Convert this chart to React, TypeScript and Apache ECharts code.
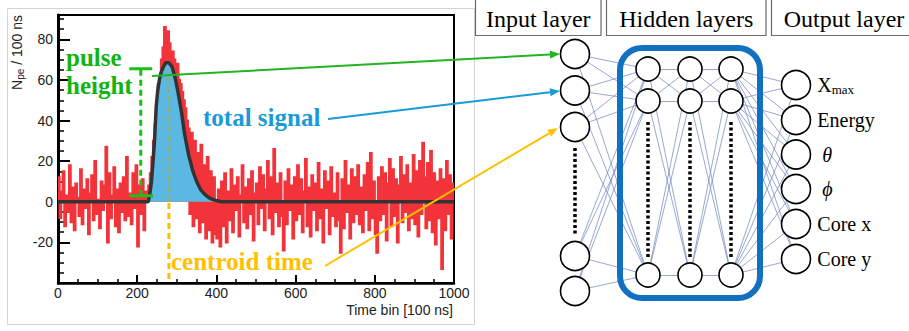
import React, { useEffect, useRef } from "react";
import * as echarts from "echarts";

// ---------------- data ----------------
const BIN_WIDTH = 4; // time bins [100 ns] per histogram entry
const X_MAX = 1000;

// N_pe per bin (0 – 228)
const noiseBefore = [
  12, -8, 5, 15, -12, 3, -5, 18, -10, 7,
  -14, 9, 2, -7, 16, -11, 6, -3, 11, -16,
  4, 13, -9, 20, -6, 1, -13, 10, -4, 8,
  27, -20, 14, -8, 3, 17, -12, 6, -15, 9,
  -5, 12, -9, 22, -7, 4, -11, 14, -3, 18,
  -22, 8, -6, 11, -14, 5, 2,
];
// pulse region (228 – 400)
const peakCounts = [
  8, 14, 22, 30, 38, 50, 58, 62, 70, 76,
  86, 80, 84, 78, 72, 74, 70, 66, 68, 60,
  58, 54, 50, 46, 40, 36, -6, 34, -12, 30,
  -8, 24, -15, 28, -10, 18, -18, 22, -14, 15,
  -20, 12, -16,
];
// after the pulse (400 – 1000)
const noiseAfter = [
  -18, 6, -22, 10, -12, 14, -20, 5, -9, 16,
  -15, 8, -4, 12, -17, 3, 18, -10, 7, -13,
  11, -6, 15, -19, 4, 9, -11, 17, -3, 13,
  -14, 6, 20, -8, 12, -16, 26, -5, 9, -12,
  14, -7, -24, 10, -11, 16, -4, 8, -18, 12,
  -9, 18, -6, 11, -15, 5, 21, -12, 7, -17,
  13, -4, 9, -14, 19, -8, 6, -20, 15, -3,
  10, -16, 17, -7, 4, -12, 14, -9, -25, 11,
  -13, 20, -5, 8, -18, 16, -10, 12, -6, 18,
  -11, 7, -15, 13, -4, 19, -14, 24, -8, 10,
  -16, -25, 12, -9, 17, -6, 14, -19, 9, 21,
  -12, 16, -7, 11, -20, 8, 22, -10, 13, -5,
  18, -14, 9, -8, 23, -11, 15, -17, 20, -6,
  29, 12, -13, 19, -9, 25, -15, 14, -21, 10,
  -8, 16, -33, 11, -14, 20, -6, 13, -18, 9,
];

// fitted pulse shape
const fitTimes = [0, 228, 232, 236, 240, 244, 248, 252, 256, 260, 266, 272, 280, 288, 296, 304, 312, 320, 330, 340, 350, 360, 370, 380, 390, 400, 412, X_MAX];
const fitValues = [0, 0, 4, 10, 20, 31, 47, 55, 60, 63.5, 66.5, 68.5, 68.5, 66.5, 61, 53, 44, 33, 23, 15.5, 10, 6, 3.8, 2.2, 1.2, 0.6, 0, 0];
const fillStart = 228;
const fillEnd = 412;

// annotation values
const pulseTime = 209;
const pulseTop = 65.5;
const pulseBottom = 3;
const pulseBarFrom = 180;
const pulseBarTo = 238;
const centroidTime = 280;
const centroidTop = 65;
const centroidBottom = -38;

const yMin = -40;
const yMax = 92;
const yStep = 20;
const xStep = 200;

const layerNames = ["Input layer", "Hidden layers", "Output layer"];
const outputLabels = ["X{sub|max}", "Energy", "{it|θ}", "{it|ϕ}", "Core x", "Core y"];

// ---------------- layout ----------------
const PLOT = { left: 58, top: 15, width: 396, height: 268 };
const inputX = 575;
const inputYs = [54, 90.5, 127, 256, 291];
const hiddenXs = [648, 690, 731];
const hiddenYs = [69, 101, 275];
const outputX = 796;
const outputYs = [85, 120, 154.5, 189, 224, 259];

const RED = "#f3333a";
const BLUE_FILL = "#5bb8e3";
const GREEN = "#12b412";
const CYAN = "#1a9bd7";
const ORANGE = "#ffc000";
const SERIF = '"Liberation Serif", "Times New Roman", serif';
const SANS = '"Liberation Sans", Arial, sans-serif';

function arrow(x1: number, y1: number, x2: number, y2: number, color: string) {
  const dx = x2 - x1;
  const dy = y2 - y1;
  const len = Math.hypot(dx, dy);
  const ux = dx / len;
  const uy = dy / len;
  const L = 10;
  const Wd = 4;
  const bx = x2 - ux * L;
  const by = y2 - uy * L;
  return [
    { type: "line", z: 30, shape: { x1, y1, x2: bx, y2: by }, style: { stroke: color, lineWidth: 2 } },
    {
      type: "polygon",
      z: 30,
      shape: { points: [[x2, y2], [bx - uy * Wd, by + ux * Wd], [bx + uy * Wd, by - ux * Wd]] },
      style: { fill: color },
    },
  ];
}

export default function App() {
  const ref = useRef<HTMLDivElement>(null);

  useEffect(() => {
    document.body.style.margin = "0";
    const chart = echarts.init(ref.current!, undefined, { renderer: "svg" });

    const counts = [...noiseBefore, ...peakCounts, ...noiseAfter];
    const histData: number[][] = counts.map((v, i) => [i * BIN_WIDTH, v]);
    histData.push([X_MAX, counts[counts.length - 1]]);

    const fitData = fitTimes.map((t, i) => [t, fitValues[i]]);
    const fillData = fitData.filter((d) => d[0] >= fillStart && d[0] <= fillEnd);

    const inputNodes = inputYs.map((y) => [inputX, y]);
    const hiddenNodes = hiddenXs.map((x) => hiddenYs.map((y) => [x, y]));
    const outputNodes = outputYs.map((y) => [outputX, y]);

    const edges: any[] = [];
    const connect = (A: number[][], B: number[][]) =>
      A.forEach((a) => B.forEach((b) => edges.push({ coords: [a, b] })));
    connect(inputNodes, hiddenNodes[0]);
    connect(hiddenNodes[0], hiddenNodes[1]);
    connect(hiddenNodes[1], hiddenNodes[2]);
    connect(hiddenNodes[2], outputNodes);

    const dots = [
      { coords: [[inputX, 148], [inputX, 236]] },
      ...hiddenXs.map((x) => ({ coords: [[x, 122], [x, 259]] })),
    ];

    const seg = (pts: number[][], color: string, dashed: boolean, z: number) => ({
      type: "line",
      xAxisIndex: 0,
      yAxisIndex: 0,
      data: pts,
      symbol: "none",
      silent: true,
      z,
      lineStyle: { color, width: 3, type: dashed ? [6, 4] : "solid", cap: "butt" },
    });

    const boxes = [
      { x: 475.5, w: 125.5, name: layerNames[0] },
      { x: 606.5, w: 159.5, name: layerNames[1] },
      { x: 771.5, w: 145, name: layerNames[2] },
    ];

    const graphic: any[] = [
      {
        type: "rect",
        z: 0,
        shape: { x: 7.5, y: 8.5, width: 467, height: 316 },
        style: { fill: "none", stroke: "#d4d4d4", lineWidth: 1 },
      },
      ...boxes.flatMap((b) => [
        {
          type: "rect",
          z: 10,
          shape: { x: b.x, y: -1.5, width: b.w, height: 37 },
          style: { fill: "#fff", stroke: "#6a6a6a", lineWidth: 1.2 },
        },
        {
          type: "text",
          z: 11,
          x: b.x + b.w / 2,
          y: 19,
          style: { text: b.name, font: `24px ${SERIF}`, fill: "#000", align: "center", verticalAlign: "middle" },
        },
      ]),
      {
        type: "rect",
        z: 20,
        shape: { x: 620, y: 48, width: 140, height: 250, r: 22 },
        style: { fill: "none", stroke: "#1270c0", lineWidth: 6 },
      },
      {
        type: "text",
        z: 20,
        x: 17,
        y: 15,
        rotation: Math.PI / 2,
        style: {
          text: "N{sub|pe} / 100 ns",
          font: `14px ${SANS}`,
          fill: "#222",
          align: "right",
          verticalAlign: "middle",
          rich: { sub: { fontSize: 10, fontFamily: SANS, fill: "#222", padding: [6, 0, 0, 0] } },
        },
      },
      {
        type: "text",
        z: 20,
        x: 453,
        y: 310,
        style: { text: "Time bin [100 ns]", font: `14px ${SANS}`, fill: "#222", align: "right", verticalAlign: "middle" },
      },
      {
        type: "text",
        z: 30,
        x: 66,
        y: 57,
        style: { text: "pulse", font: `bold 25px ${SERIF}`, fill: GREEN, align: "left", verticalAlign: "middle" },
      },
      {
        type: "text",
        z: 30,
        x: 66,
        y: 85,
        style: { text: "height", font: `bold 25px ${SERIF}`, fill: GREEN, align: "left", verticalAlign: "middle" },
      },
      {
        type: "text",
        z: 30,
        x: 203,
        y: 117,
        style: { text: "total signal", font: `bold 25px ${SERIF}`, fill: CYAN, align: "left", verticalAlign: "middle" },
      },
      {
        type: "text",
        z: 30,
        x: 171,
        y: 261,
        style: { text: "centroid time", font: `bold 25px ${SERIF}`, fill: ORANGE, align: "left", verticalAlign: "middle" },
      },
      ...arrow(152, 76, 560, 54, "#22b422"),
      ...arrow(328, 119, 560, 91, CYAN),
      ...arrow(325, 266, 558, 128, ORANGE),
    ];

    const nodeSeries = (data: number[][], size: number, withLabels: boolean) => ({
      type: "scatter",
      xAxisIndex: 1,
      yAxisIndex: 1,
      data,
      symbol: "circle",
      symbolSize: size,
      silent: true,
      z: 5,
      itemStyle: { color: "#fff", borderColor: "#000", borderWidth: 1.6, opacity: 1 },
      label: withLabels
        ? {
            show: true,
            position: "right",
            distance: 6,
            formatter: (p: any) => outputLabels[p.dataIndex],
            fontFamily: SERIF,
            fontSize: 20,
            color: "#000",
            rich: {
              sub: { fontFamily: SERIF, fontSize: 13, color: "#000", padding: [9, 0, 0, 0] },
              it: { fontFamily: SERIF, fontSize: 20, fontStyle: "italic", color: "#000", padding: [0, 0, 0, 5] },
            },
          }
        : { show: false },
    });

    const option: any = {
      animation: false,
      backgroundColor: "#fff",
      grid: [
        {
          left: PLOT.left,
          top: PLOT.top,
          width: PLOT.width,
          height: PLOT.height,
          show: true,
          borderColor: "#000",
          borderWidth: 2,
          backgroundColor: "transparent",
        },
        { left: 475, top: 0, width: 434, height: 331 },
      ],
      xAxis: [
        {
          type: "value",
          gridIndex: 0,
          min: 0,
          max: X_MAX,
          interval: xStep,
          axisLine: { show: true, onZero: false, lineStyle: { color: "#000", width: 2.5 } },
          axisTick: { show: true, inside: true, length: 8, lineStyle: { color: "#000", width: 2 } },
          minorTick: { show: true, splitNumber: 4, length: 4, lineStyle: { color: "#000", width: 1.5 } },
          splitLine: { show: false },
          axisLabel: { color: "#222", fontSize: 14, fontFamily: SANS, margin: 3, formatter: (v: number) => String(v) },
        },
        { type: "value", gridIndex: 1, min: 475, max: 909, show: false },
      ],
      yAxis: [
        {
          type: "value",
          gridIndex: 0,
          min: yMin,
          max: yMax,
          interval: yStep,
          axisLine: { show: true, onZero: false, lineStyle: { color: "#000", width: 3 } },
          axisTick: { show: true, inside: true, length: 12, lineStyle: { color: "#000", width: 2 } },
          minorTick: { show: true, splitNumber: 4, length: 6, lineStyle: { color: "#000", width: 1.5 } },
          splitLine: { show: false },
          axisLabel: {
            color: "#222",
            fontSize: 14,
            fontFamily: SANS,
            margin: 5,
            showMaxLabel: false,
            formatter: (v: number) => (v === yMin ? "" : String(v)),
          },
        },
        { type: "value", gridIndex: 1, min: 0, max: 331, inverse: true, show: false },
      ],
      graphic,
      series: [
        {
          type: "line",
          xAxisIndex: 0,
          yAxisIndex: 0,
          data: histData,
          step: "end",
          symbol: "none",
          silent: true,
          z: 2,
          lineStyle: { color: RED, width: 2.2, join: "miter" },
          areaStyle: { color: RED, opacity: 1 },
        },
        {
          type: "line",
          xAxisIndex: 0,
          yAxisIndex: 0,
          data: fillData,
          symbol: "none",
          silent: true,
          z: 3,
          lineStyle: { width: 0 },
          areaStyle: { color: BLUE_FILL, opacity: 1 },
        },
        seg([[centroidTime, centroidBottom], [centroidTime, 0]], ORANGE, true, 4),
        seg([[centroidTime, 0], [centroidTime, centroidTop]], "#8fae7e", true, 4),
        {
          type: "line",
          xAxisIndex: 0,
          yAxisIndex: 0,
          data: fitData,
          symbol: "none",
          silent: true,
          z: 5,
          lineStyle: { color: "#333", width: 3.5 },
        },
        seg([[pulseTime, pulseBottom], [pulseTime, pulseTop]], "#18c018", true, 6),
        seg([[pulseBarFrom, pulseTop], [pulseBarTo, pulseTop]], "#18c018", false, 6),
        seg([[pulseBarFrom, pulseBottom], [pulseBarTo + 2, pulseBottom]], "#18c018", false, 6),
        {
          type: "lines",
          coordinateSystem: "cartesian2d",
          xAxisIndex: 1,
          yAxisIndex: 1,
          data: edges,
          silent: true,
          z: 1,
          lineStyle: { color: "#6f86bf", width: 0.8, opacity: 0.9 },
        },
        {
          type: "lines",
          coordinateSystem: "cartesian2d",
          xAxisIndex: 1,
          yAxisIndex: 1,
          data: dots,
          silent: true,
          z: 1,
          lineStyle: { color: "#000", width: 3.5, type: [3, 2.5], opacity: 1 },
        },
        nodeSeries(inputNodes, 29, false),
        ...hiddenNodes.map((col) => nodeSeries(col, 24, false)),
        nodeSeries(outputNodes, 29, true),
      ],
    };

    chart.setOption(option);
    return () => chart.dispose();
  }, []);

  return <div ref={ref} style={{ width: 909, height: 331, background: "#fff" }} />;
}
